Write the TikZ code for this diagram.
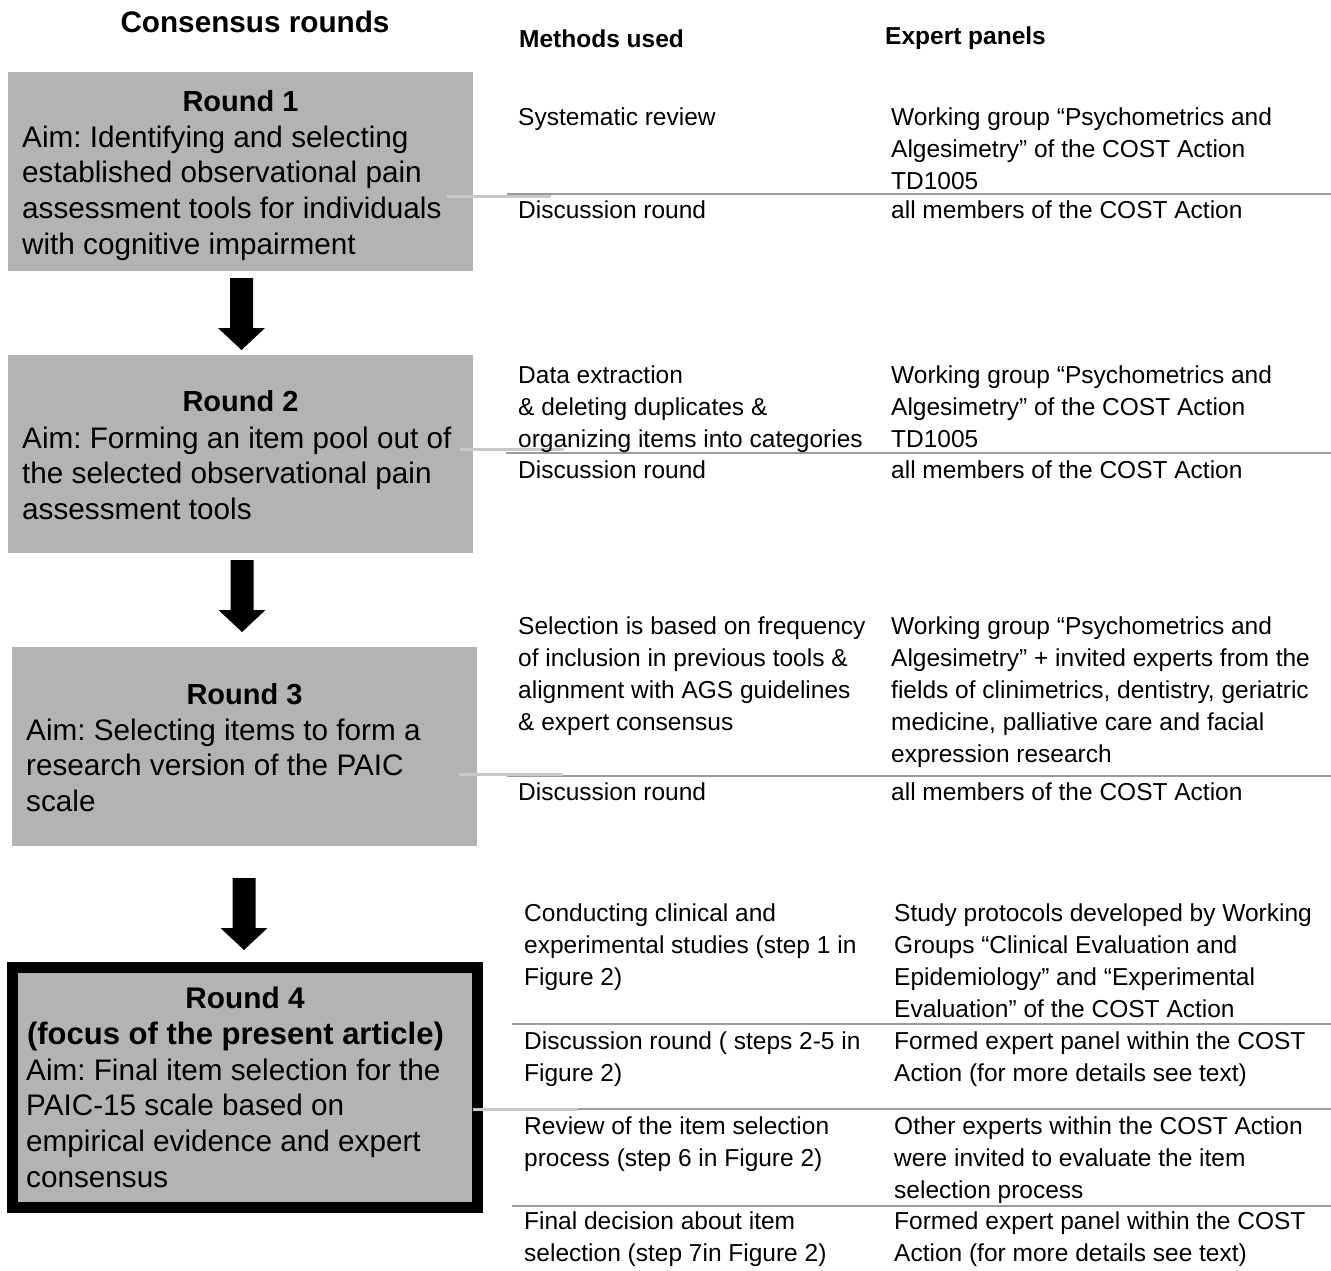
\documentclass[tikz,border=0pt]{standalone}
\usepackage{fontspec}
\setmainfont{Liberation Sans}
\frenchspacing
\definecolor{boxgray}{HTML}{B3B3B3}
\definecolor{sepgray}{HTML}{9C9C9C}
\definecolor{linkgray}{HTML}{C8C8C8}
\newcommand\blockarr[2]{\fill[black] ({#1-11.5},#2) -- ({#1+11.5},#2) -- ({#1+11.5},{#2+50}) -- ({#1+23.5},{#2+50}) -- (#1,{#2+72}) -- ({#1-23.5},{#2+50}) -- ({#1-11.5},{#2+50}) -- cycle;}
\begin{document}
\frenchspacing
\begin{tikzpicture}[x=1pt,y=-1pt,
  box/.style={fill=boxgray, draw=none, minimum width=465pt, inner sep=0pt},
  ttl/.style={anchor=base, font=\fontsize{29}{35.7}\selectfont\bfseries, inner sep=0pt},
  aim/.style={anchor=north west, align=left, inner sep=0pt, font=\fontsize{29.7}{35.7}\selectfont\frenchspacing},
  cell/.style={anchor=north west, align=left, inner sep=0pt, font=\fontsize{24.5}{32}\selectfont\frenchspacing},
  hdr/.style={anchor=base west, inner sep=0pt, font=\fontsize{24.5}{30}\selectfont\bfseries},
  sep/.style={draw=sepgray, line width=2.5pt},
  link/.style={draw=linkgray, line width=3pt}]
\fill[white] (0,0) rectangle (1331,1270);
\useasboundingbox (0,0) rectangle (1331,1270);

% headers
\node[ttl, font=\fontsize{29.7}{35.7}\selectfont\bfseries] (hcons) at (255,32) {Consensus rounds};
\node[hdr] (hmeth) at (519,47) {Methods used};
\node[hdr] (hexp) at (885,44) {Expert panels};

% boxes
\node[box, minimum height=199pt] (b1) at (240.5,171.5) {};
\node[box, minimum height=198pt] (b2) at (240.5,454) {};
\node[box, minimum height=199pt] (b3) at (244.5,746.5) {};
\node[box, draw=black, line width=11pt, minimum height=240pt] (b4) at (245,1087.5) {};

% box texts
\node[ttl] (t1) at (240.5,111) {Round 1};
\node[aim] (a1) at (22,122) {\strut Aim: Identifying and selecting\\established observational pain\\assessment tools for individuals\\with cognitive impairment};
\node[ttl] (t2) at (240.5,411) {Round 2};
\node[aim] (a2) at (22,423) {\strut Aim: Forming an item pool out of\\the selected observational pain\\assessment tools};
\node[ttl] (t3) at (244.5,704) {Round 3};
\node[aim] (a3) at (26,715) {\strut Aim: Selecting items to form a\\research version of the PAIC\\scale};
\node[ttl, font=\fontsize{29.8}{35.7}\selectfont\bfseries] (t4) at (245,1008) {Round 4};
\node[ttl, font=\fontsize{31}{35.7}\selectfont\bfseries] (t4b) at (235.5,1044) {(focus of the present article)};
\node[aim] (a4) at (26,1055) {\strut Aim: Final item selection for the\\PAIC-15 scale based on\\empirical evidence and expert\\consensus};

% arrows
\blockarr{241.5}{278}
\blockarr{242}{560}
\blockarr{244}{878}

% separators
\draw[sep] (507,194) -- (1331,194);
\draw[sep] (506,453) -- (1331,453);
\draw[sep] (507,776) -- (1331,776);
\draw[sep] (512,1024) -- (1331,1024);
\draw[sep] (512,1109) -- (1331,1109);
\draw[sep] (512,1206) -- (1331,1206);

% links from boxes
\coordinate (l1) at (551,196);
\coordinate (l2) at (564,449);
\coordinate (l3) at (563,774);
\coordinate (l4) at (578,1109);
\draw[link] (b1.east |- l1) ++(-26,0) -- (l1);
\draw[link] (b2.east |- l2) ++(-13,0) -- (l2);
\draw[link] (b3.east |- l3) ++(-18,0) -- (l3);
\draw[link] (b4.east |- l4) ++(-10,0) -- (l4);

% round 1 rows
\node[cell] (m1a) at (518,103) {\strut Systematic review};
\node[cell] (e1a) at (891,103) {\strut Working group “Psychometrics and\\Algesimetry” of the COST Action\\TD1005};
\node[cell] (m1b) at (518,196) {\strut Discussion round};
\node[cell] (e1b) at (891,196) {\strut all members of the COST Action};

% round 2 rows
\node[cell] (m2a) at (518,361) {\strut Data extraction\\\& deleting duplicates \&\\organizing items into categories};
\node[cell] (e2a) at (891,361) {\strut Working group “Psychometrics and\\Algesimetry” of the COST Action\\TD1005};
\node[cell] (m2b) at (518,456) {\strut Discussion round};
\node[cell] (e2b) at (891,456) {\strut all members of the COST Action};

% round 3 rows
\node[cell] (m3a) at (518,612) {\strut Selection is based on frequency\\of inclusion in previous tools \&\\alignment with AGS guidelines\\\& expert consensus};
\node[cell] (e3a) at (891,612) {\strut Working group “Psychometrics and\\Algesimetry” + invited experts from the\\fields of clinimetrics, dentistry, geriatric\\medicine, palliative care and facial\\expression research};
\node[cell] (m3b) at (518,778) {\strut Discussion round};
\node[cell] (e3b) at (891,778) {\strut all members of the COST Action};

% round 4 rows
\node[cell] (m4a) at (524,899) {\strut Conducting clinical and\\experimental studies (step 1 in\\Figure 2)};
\node[cell] (e4a) at (894,899) {\strut Study protocols developed by Working\\Groups “Clinical Evaluation and\\Epidemiology” and “Experimental\\Evaluation” of the COST Action};
\node[cell] (m4b) at (524,1027) {\strut Discussion round ( steps 2-5 in\\Figure 2)};
\node[cell] (e4b) at (894,1027) {\strut Formed expert panel within the COST\\Action (for more details see text)};
\node[cell] (m4c) at (524,1112) {\strut Review of the item selection\\process (step 6 in Figure 2)};
\node[cell] (e4c) at (894,1112) {\strut Other experts within the COST Action\\were invited to evaluate the item\\selection process};
\node[cell] (m4d) at (524,1207) {\strut Final decision about item\\selection (step 7in Figure 2)};
\node[cell] (e4d) at (894,1207) {\strut Formed expert panel within the COST\\Action (for more details see text)};
\end{tikzpicture}
\end{document}
